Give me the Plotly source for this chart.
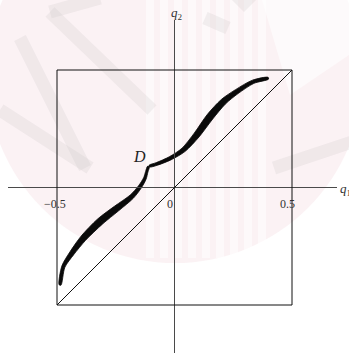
import numpy as np
import plotly.graph_objects as go

W, H = 349, 353

# Lower branch of the solution set (centre line and band thickness, in q units)
lower_q1 = [-0.487, -0.473, -0.437, -0.388, -0.317, -0.246, -0.182, -0.147, -0.126, -0.118, -0.111]
lower_q2 = [-0.415, -0.337, -0.280, -0.216, -0.145, -0.089, -0.039, 0.003, 0.039, 0.067, 0.089]
lower_thk = [0.008, 0.014, 0.020, 0.026, 0.030, 0.026, 0.019, 0.015, 0.012, 0.010, 0.008]

# Upper branch, starting at the cusp D
upper_q1 = [-0.107, -0.076, -0.019, 0.038, 0.094, 0.151, 0.208, 0.265, 0.335, 0.399]
upper_q2 = [0.091, 0.100, 0.124, 0.160, 0.223, 0.301, 0.365, 0.408, 0.450, 0.465]
upper_thk = [0.008, 0.012, 0.015, 0.019, 0.026, 0.030, 0.026, 0.020, 0.015, 0.008]

# Square domain and diagonal q1 = q2
box = [-0.5, 0.5]
tick_vals = [-0.5, 0.0, 0.5]
tick_text = ["\u22120.5", "0", "0.5"]
cusp = (-0.108, 0.089)

# Axis ranges so that the square sits where it should on the page
x_rng = [-174.5 / 235, (W - 174.5) / 235]
y_rng = [(187.5 - H) / 235, 187.5 / 235]


def band(q1, q2, thk):
    x = np.asarray(q1, float)
    y = np.asarray(q2, float)
    t = np.asarray(thk, float) / 2
    tx, ty = np.gradient(x), np.gradient(y)
    n = np.hypot(tx, ty)
    nx, ny = -ty / n, tx / n
    xs = np.concatenate([x + nx * t, (x - nx * t)[::-1], [x[0] + nx[0] * t[0]]])
    ys = np.concatenate([y + ny * t, (y - ny * t)[::-1], [y[0] + ny[0] * t[0]]])
    return xs, ys


fig = go.Figure()

for q1, q2, thk in [(lower_q1, lower_q2, lower_thk), (upper_q1, upper_q2, upper_thk)]:
    bx, by = band(q1, q2, thk)
    fig.add_trace(go.Scatter(x=bx, y=by, mode="lines", fill="toself",
                             fillcolor="#0a0a0a",
                             line=dict(color="#0a0a0a", width=0.8, shape="spline", smoothing=0.8),
                             hoverinfo="skip", showlegend=False))
    fig.add_trace(go.Scatter(x=q1, y=q2, mode="lines",
                             line=dict(color="#0a0a0a", width=1.6, shape="spline", smoothing=0.8),
                             hoverinfo="skip", showlegend=False))


def px(x):
    return x / W


def py(y):
    return 1 - y / H


shapes = []
# faint backdrop emblem
shapes.append(dict(type="circle", xref="paper", yref="paper", layer="below",
                   x0=px(-13), x1=px(363), y0=py(263), y1=py(-113),
                   fillcolor="rgba(240,208,215,0.28)", line=dict(width=0)))
for sx in np.arange(140, 266, 14):
    shapes.append(dict(type="rect", xref="paper", yref="paper", layer="below",
                       x0=px(sx + 6), x1=px(sx + 14), y0=py(258), y1=py(0),
                       fillcolor="rgba(255,255,255,0.5)", line=dict(width=0)))
grey = "rgba(200,196,198,0.22)"
for seg in [((20, 38), (85, 168)), ((0, 110), (90, 168)), ((50, 12), (152, 110)),
            ((50, 12), (100, -2)), ((205, 18), (228, 28)), ((274, 168), (352, 142))]:
    (xa, ya), (xb, yb) = seg
    shapes.append(dict(type="line", xref="paper", yref="paper", layer="below",
                       x0=px(xa), y0=py(ya), x1=px(xb), y1=py(yb),
                       line=dict(color=grey, width=13)))
shapes.append(dict(type="path", xref="paper", yref="paper", layer="below",
                   path=f"M {px(232)} {py(0)} L {px(256)} {py(0)} L {px(244)} {py(12)} Z",
                   fillcolor=grey, line=dict(width=0)))
shapes.append(dict(type="path", xref="paper", yref="paper", layer="below",
                   path=f"M {px(262)} {py(0)} L {px(349)} {py(0)} L {px(349)} {py(55)} L {px(290)} {py(95)} Z",
                   fillcolor="rgba(255,255,255,0.6)", line=dict(width=0)))

# coordinate axes
axis_col = "#4a4a4a"
shapes.append(dict(type="line", xref="x", yref="y", x0=(8 - 174.5) / 235, x1=(337 - 174.5) / 235,
                   y0=0, y1=0, line=dict(color=axis_col, width=1)))
shapes.append(dict(type="line", xref="x", yref="y", x0=0, x1=0,
                   y0=(187.5 - 20) / 235, y1=y_rng[0] - 0.05, line=dict(color=axis_col, width=1)))
# square and diagonal
shapes.append(dict(type="rect", xref="x", yref="y", x0=box[0], x1=box[1], y0=box[0], y1=box[1],
                   line=dict(color="#111111", width=1)))
shapes.append(dict(type="line", xref="x", yref="y", x0=box[0], y0=box[0], x1=box[1], y1=box[1],
                   line=dict(color="#111111", width=1)))

serif = "Liberation Serif, Times New Roman, serif"
annotations = []
for v, t, dx in zip(tick_vals, tick_text, [-2, -5, -5]):
    annotations.append(dict(x=v, y=0, xref="x", yref="y", text=t, showarrow=False,
                            xanchor="center", yanchor="top", xshift=dx, yshift=-7,
                            font=dict(family=serif, size=12, color="#333333")))
annotations.append(dict(x=cusp[0], y=cusp[1], xref="x", yref="y", text="<i>D</i>", showarrow=False,
                        xanchor="center", yanchor="middle", xshift=-10, yshift=10,
                        font=dict(family=serif, size=16, color="#222222")))
annotations.append(dict(x=0, y=(187.5 - 20) / 235, xref="x", yref="y", text="<i>q</i><sub>2</sub>",
                        showarrow=False, xanchor="center", yanchor="bottom", xshift=2, yshift=-4,
                        font=dict(family=serif, size=13, color="#333333")))
annotations.append(dict(x=(337 - 174.5) / 235, y=0, xref="x", yref="y", text="<i>q</i><sub>1</sub>",
                        showarrow=False, xanchor="left", yanchor="middle", xshift=1, yshift=-2,
                        font=dict(family=serif, size=13, color="#333333")))

fig.update_layout(
    width=W, height=H, margin=dict(l=0, r=0, t=0, b=0),
    paper_bgcolor="white", plot_bgcolor="rgba(0,0,0,0)",
    xaxis=dict(range=x_rng, visible=False, fixedrange=True),
    yaxis=dict(range=y_rng, visible=False, fixedrange=True),
    shapes=shapes, annotations=annotations, showlegend=False,
)

fig.write_html("out.html")
